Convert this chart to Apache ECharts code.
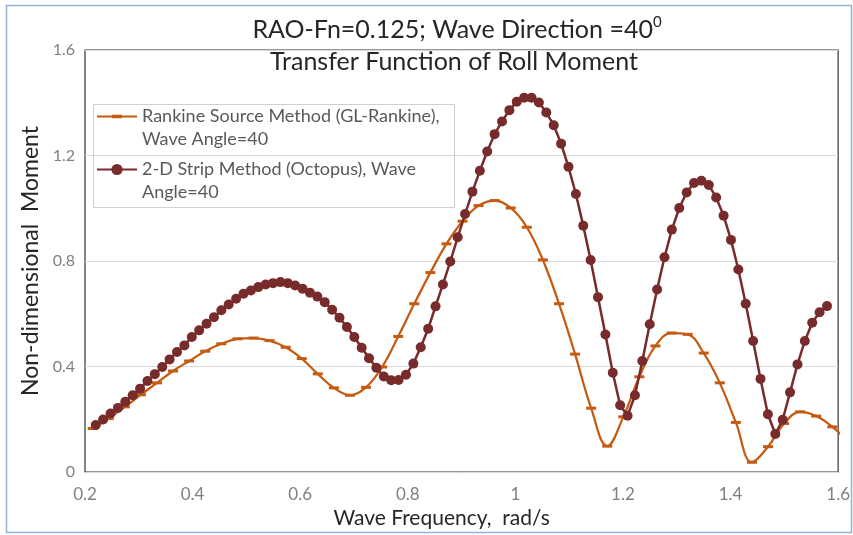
<!DOCTYPE html>
<html>
<head>
<meta charset="utf-8">
<script src="https://cdn.jsdelivr.net/npm/echarts@6/dist/echarts.min.js"></script>
<style>html,body{margin:0;padding:0;background:#fff}#c{width:853px;height:535px}</style>
</head>
<body>
<div id="c"></div>
<script>
// ---- data ----
const xTicks = [0.2, 0.4, 0.6, 0.8, 1.0, 1.2, 1.4, 1.6];
const yTicks = [0, 0.4, 0.8, 1.2, 1.6];

const rankineName = 'Rankine Source Method (GL-Rankine),\nWave Angle=40';
const octopusName = '2-D Strip Method (Octopus), Wave\nAngle=40';

const rankineX = [0.2143,0.2442,0.2741,0.3039,0.3338,0.3637,0.3936,0.4235,0.4534,0.4833,
  0.5132,0.5431,0.5730,0.6029,0.6327,0.6626,0.6925,0.7224,0.7523,0.7822,
  0.8121,0.8420,0.8719,0.9018,0.9316,0.9615,0.9914,1.0213,1.0512,1.0811,
  1.1110,1.1409,1.1708,1.2007,1.2305,1.2604,1.2903,1.3202,1.3501,1.3800,
  1.4099,1.4398,1.4697,1.4996,1.5294,1.5593,1.5892,1.6191];
const rankineY = [0.165,0.203,0.247,0.293,0.338,0.383,0.421,0.458,0.486,0.505,
  0.508,0.498,0.473,0.430,0.372,0.319,0.291,0.321,0.398,0.514,
  0.638,0.756,0.865,0.951,1.010,1.029,1.001,0.928,0.804,0.638,
  0.447,0.242,0.098,0.209,0.361,0.478,0.527,0.522,0.451,0.338,
  0.188,0.037,0.096,0.184,0.228,0.212,0.171,0.115];

const octopusX = [0.2200,0.2337,0.2475,0.2612,0.2749,0.2887,0.3024,0.3161,0.3298,0.3436,
  0.3573,0.3710,0.3848,0.3985,0.4122,0.4260,0.4397,0.4534,0.4671,0.4809,
  0.4946,0.5083,0.5221,0.5358,0.5495,0.5633,0.5770,0.5907,0.6044,0.6182,
  0.6319,0.6456,0.6594,0.6731,0.6868,0.7006,0.7143,0.7280,0.7417,0.7555,
  0.7692,0.7829,0.7967,0.8104,0.8241,0.8379,0.8516,0.8653,0.8790,0.8928,
  0.9065,0.9202,0.9340,0.9477,0.9614,0.9752,0.9889,1.0026,1.0163,1.0301,
  1.0438,1.0575,1.0713,1.0850,1.0987,1.1125,1.1262,1.1399,1.1536,1.1674,
  1.1811,1.1948,1.2086,1.2223,1.2360,1.2498,1.2635,1.2772,1.2909,1.3047,
  1.3184,1.3321,1.3459,1.3596,1.3733,1.3871,1.4008,1.4145,1.4282,1.4420,
  1.4557,1.4694,1.4832,1.4969,1.5106,1.5244,1.5381,1.5518,1.5655,1.5793];
const octopusY = [0.178,0.199,0.222,0.243,0.266,0.291,0.316,0.345,0.371,0.398,
  0.427,0.455,0.480,0.512,0.537,0.562,0.587,0.613,0.635,0.657,
  0.676,0.688,0.701,0.711,0.716,0.720,0.716,0.707,0.695,0.680,
  0.665,0.644,0.615,0.585,0.550,0.512,0.471,0.431,0.395,0.362,
  0.348,0.349,0.369,0.411,0.473,0.543,0.628,0.711,0.798,0.890,
  0.978,1.063,1.142,1.215,1.281,1.329,1.372,1.404,1.419,1.419,
  1.401,1.363,1.315,1.245,1.157,1.054,0.934,0.804,0.663,0.521,
  0.376,0.253,0.213,0.291,0.421,0.560,0.692,0.814,0.919,1.001,
  1.060,1.096,1.104,1.088,1.041,0.972,0.880,0.768,0.638,0.497,
  0.353,0.219,0.144,0.198,0.302,0.408,0.497,0.566,0.606,0.629];

const orange = '#C55A11';
const maroon = '#772B2B';
const FONT = 'Lato';

const chart = echarts.init(document.getElementById('c'), null, {renderer: 'canvas'});
chart.setOption({
  animation: false,
  backgroundColor: '#ffffff',
  textStyle: {fontFamily: FONT},
  title: [
    {
      text: '{m|RAO-Fn=0.125; Wave Direction =40}{s|0}',
      left: 457, top: 30, padding: 0,
      textAlign: 'center', textVerticalAlign: 'middle',
      textStyle: {fontWeight: 'normal', rich: {
        m: {fontSize: 25, fontWeight: 'normal', color: '#262626', fontFamily: FONT, lineHeight: 30},
        s: {fontSize: 15, fontWeight: 'normal', color: '#262626', fontFamily: FONT, verticalAlign: 'top'}
      }}
    },
    {
      text: 'Transfer Function of Roll Moment',
      left: 454, top: 62, padding: 0,
      textAlign: 'center', textVerticalAlign: 'middle',
      textStyle: {fontSize: 25, fontWeight: 'normal', color: '#262626', fontFamily: FONT}
    }
  ],
  legend: {
    orient: 'vertical',
    left: 96, top: 84.5,
    padding: 0,
    itemWidth: 40, itemHeight: 14,
    itemGap: -11,
    data: [
      {name: rankineName, icon: 'path://M0,6 L40,6 L40,8.2 L0,8.2 Z M15,5.3 L25,5.3 L25,8.9 L15,8.9 Z'},
      {name: octopusName}
    ],
    formatter: name => {
      const parts = name.split('\n');
      return '{e| }\n{a|' + parts[0] + '}\n{a|' + parts[1] + '}';
    },
    textStyle: {fontSize: 18, color: '#595959', fontFamily: FONT,
      rich: {
        e: {fontSize: 18, lineHeight: 23, color: '#595959', fontFamily: FONT},
        a: {fontSize: 18, lineHeight: 23, color: '#595959', fontFamily: FONT}
      }}
  },
  graphic: [
    {type: 'rect', left: 91, top: 102, shape: {width: 361, height: 103},
     style: {fill: 'none', stroke: '#D0D0D0', lineWidth: 1}, z: 100, silent: true},
    {type: 'rect', left: 4, top: 3, shape: {width: 845, height: 527},
     style: {fill: 'none', stroke: '#95B3D7', lineWidth: 1.5}, z: 100, silent: true}
  ],
  grid: {left: 85, right: 12, top: 50, bottom: 63, show: true, borderColor: '#333333', borderWidth: 1.2, containLabel: false},
  xAxis: {
    type: 'value',
    min: xTicks[0], max: xTicks[xTicks.length - 1], interval: 0.2,
    name: 'Wave Frequency,  rad/s',
    nameLocation: 'middle', nameGap: 35,
    nameTextStyle: {fontSize: 21, color: '#262626', fontFamily: FONT, padding: [0, 40, 0, 0]},
    axisLine: {show: false}, axisTick: {show: false},
    splitLine: {show: false},
    axisLabel: {fontSize: 17, color: '#808080', margin: 14, fontFamily: FONT,
      formatter: v => String(+v.toFixed(1))}
  },
  yAxis: {
    type: 'value',
    min: yTicks[0], max: yTicks[yTicks.length - 1], interval: 0.4,
    name: 'Non-dimensional  Moment',
    nameLocation: 'middle', nameGap: 37, nameRotate: 90,
    nameTextStyle: {fontSize: 23, color: '#262626', fontFamily: FONT},
    axisLine: {show: false}, axisTick: {show: false},
    splitLine: {show: true, lineStyle: {color: '#D9D9D9', width: 1}},
    axisLabel: {fontSize: 16, color: '#808080', margin: 10, fontFamily: FONT,
      formatter: v => String(+v.toFixed(1))}
  },
  series: [
    {
      name: rankineName, type: 'line',
      data: rankineX.map((x, i) => [x, rankineY[i]]),
      smooth: 0.4, clip: true,
      symbol: 'rect', symbolSize: [10, 3],
      lineStyle: {color: orange, width: 2.25},
      itemStyle: {color: orange},
      z: 2
    },
    {
      name: octopusName, type: 'line',
      data: octopusX.map((x, i) => [x, octopusY[i]]),
      smooth: false, clip: true,
      symbol: 'circle', symbolSize: 10,
      lineStyle: {color: maroon, width: 2.5},
      itemStyle: {color: maroon},
      z: 3
    }
  ]
});
</script>
</body>
</html>
